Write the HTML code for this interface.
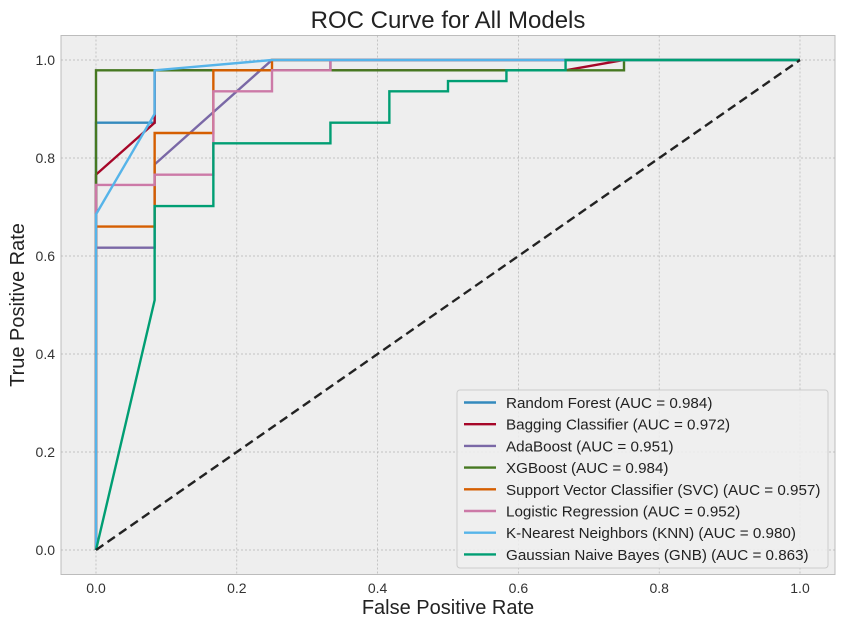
<!DOCTYPE html>
<html><head><meta charset="utf-8"><style>
body{margin:0;background:#fff;font-family:"Liberation Sans",Arial,sans-serif;}
svg text{font-family:"Liberation Sans",Arial,sans-serif;}
</style></head><body>
<svg id="chart" width="845" height="628" viewBox="0 0 845 628">
<rect x="0" y="0" width="845" height="628" fill="#fff"/>
<text x="448" y="28" font-size="24" text-anchor="middle" fill="#222">ROC Curve for All Models</text>
<rect x="61" y="35.5" width="774" height="539" fill="#EEEEEE" stroke="#BCBCBC" stroke-width="1"/>
<g id="grid"></g>
<g id="ticks"></g>
<g id="series"></g>
<text x="448" y="614" font-size="20" text-anchor="middle" fill="#222">False Positive Rate</text>
<text x="24" y="305" font-size="20" text-anchor="middle" fill="#222" transform="rotate(-90 24 305)">True Positive Rate</text>
<g id="legend"></g>
</svg>
<script>
const xTicks=[0,0.2,0.4,0.6,0.8,1.0];
const yTicks=[0,0.2,0.4,0.6,0.8,1.0];
const tickLabels=["0.0","0.2","0.4","0.6","0.8","1.0"];
const seriesNames=["Random Forest (AUC = 0.984)","Bagging Classifier (AUC = 0.972)","AdaBoost (AUC = 0.951)","XGBoost (AUC = 0.984)","Support Vector Classifier (SVC) (AUC = 0.957)","Logistic Regression (AUC = 0.952)","K-Nearest Neighbors (KNN) (AUC = 0.980)","Gaussian Naive Bayes (GNB) (AUC = 0.863)"];
const seriesColors=["#348ABD","#A60628","#7A68A6","#467821","#D55E00","#CC79A7","#56B4E9","#009E73"];
const rfFpr=[0,0,0.0833,0.0833,0.333,0.333,1];
const rfTpr=[0,0.872,0.872,0.979,0.979,1,1];
const bagFpr=[0,0,0.0833,0.0833,0.667,0.75,1];
const bagTpr=[0,0.766,0.872,0.979,0.979,1,1];
const adaFpr=[0,0,0.0833,0.0833,0.25,1];
const adaTpr=[0,0.617,0.617,0.787,1,1];
const xgbFpr=[0,0,0.75,0.75,1];
const xgbTpr=[0,0.979,0.979,1,1];
const svcFpr=[0,0,0.0833,0.0833,0.1667,0.1667,0.25,0.25,1];
const svcTpr=[0,0.66,0.66,0.851,0.851,0.979,0.979,1,1];
const lrFpr=[0,0,0.0833,0.0833,0.1667,0.1667,0.25,0.25,0.333,0.333,1];
const lrTpr=[0,0.745,0.745,0.766,0.766,0.936,0.936,0.979,0.979,1,1];
const knnFpr=[0,0,0.0833,0.0833,0.25,1];
const knnTpr=[0,0.685,0.89,0.979,1,1];
const gnbFpr=[0,0.0833,0.0833,0.1667,0.1667,0.333,0.333,0.4167,0.4167,0.5,0.5,0.583,0.583,0.667,0.667,1];
const gnbTpr=[0,0.51,0.702,0.702,0.83,0.83,0.872,0.872,0.936,0.936,0.957,0.957,0.979,0.979,1,1];
const allFpr=[rfFpr,bagFpr,adaFpr,xgbFpr,svcFpr,lrFpr,knnFpr,gnbFpr];
const allTpr=[rfTpr,bagTpr,adaTpr,xgbTpr,svcTpr,lrTpr,knnTpr,gnbTpr];
const NS="http://www.w3.org/2000/svg";
const X=v=>96+v*704, Y=v=>550-v*490;
function mk(tag,attrs,parent){const e=document.createElementNS(NS,tag);for(const k in attrs)e.setAttribute(k,attrs[k]);parent.appendChild(e);return e;}
const grid=document.getElementById('grid'),ticks=document.getElementById('ticks');
xTicks.forEach((t,i)=>{
 const l=mk('line',{x1:X(t),x2:X(t),y1:35.5,y2:574.5,stroke:'#B2B2B2','stroke-width':0.7,'stroke-dasharray':'2,2'},grid);
 
 
 const tx=mk('text',{x:X(t),y:593,'font-size':14,'text-anchor':'middle',fill:'#333'},ticks);
 tx.textContent=tickLabels[i];
 
 
});
yTicks.forEach((t,i)=>{
 const l=mk('line',{x1:61,x2:835,y1:Y(t),y2:Y(t),stroke:'#B2B2B2','stroke-width':0.7,'stroke-dasharray':'2,2'},grid);
 
 
 const tx=mk('text',{x:55,y:Y(t)+5,'font-size':14,'text-anchor':'end',fill:'#333'},ticks);
 tx.textContent=tickLabels[i];
 
 
});
const series=document.getElementById('series');
allFpr.forEach((f,i)=>{
 const pts=f.map((v,j)=>X(v)+','+Y(allTpr[i][j])).join(' ');
 const p=mk('polyline',{points:pts,fill:'none',stroke:seriesColors[i],'stroke-width':2.4,'stroke-linejoin':'miter'},series);
 
 
});
const diag=mk('line',{x1:X(0),y1:Y(0),x2:X(1),y2:Y(1),stroke:'#222','stroke-width':2.4,'stroke-dasharray':'9,5'},series);


const lg=document.getElementById('legend');
const box=mk('rect',{x:457,y:390,width:371,height:178,rx:3,fill:'#EEEEEE','fill-opacity':0.85,stroke:'#CCCCCC','stroke-width':1},lg);


seriesNames.forEach((n,i)=>{
 const y=402.5+i*21.7;
 const l=mk('line',{x1:464,x2:496,y1:y,y2:y,stroke:seriesColors[i],'stroke-width':2.4},lg);
 
 
 const t=mk('text',{x:506,y:y+5.5,'font-size':15.2,fill:'#222'},lg);
 t.textContent=n;
 
 
});
</script>
</body></html>
